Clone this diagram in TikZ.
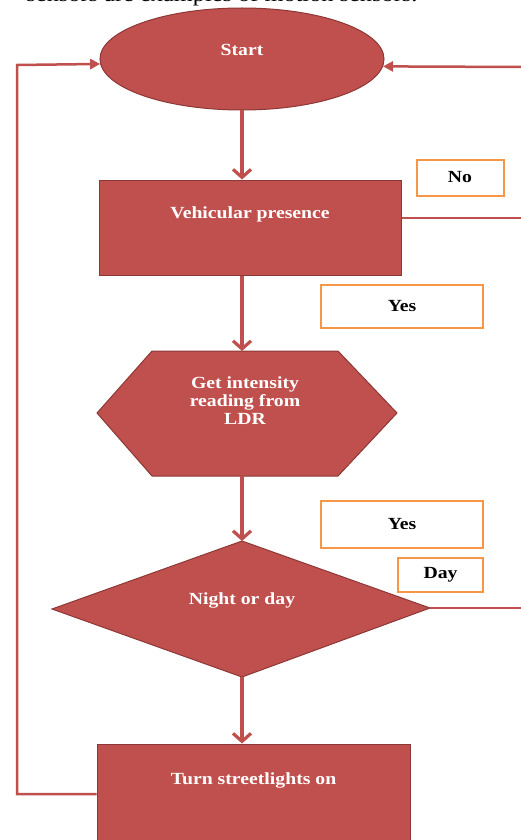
\documentclass[tikz,border=0pt]{standalone}
\usepackage{fontspec}
\setmainfont{Liberation Serif}[FakeStretch=1.16]
\usetikzlibrary{shapes.geometric,arrows.meta}
\definecolor{redfill}{HTML}{C0504D}
\definecolor{redline}{HTML}{8C3836}
\definecolor{orangeline}{HTML}{F79646}
\definecolor{connred}{HTML}{C0504D}
\begin{document}
\begin{tikzpicture}[x=1pt,y=-1pt,
  shapebox/.style={draw=redline, line width=1pt, fill=redfill},
  lbl/.style={text=white, font=\fontsize{17}{18}\selectfont\bfseries, align=center},
  tag/.style={draw=orangeline, line width=2pt, fill=white, text=black, inner sep=0pt, font=\fontsize{17}{18}\selectfont\bfseries},
  conn/.style={draw=connred, line width=3.2pt},
  vtip/.style={-{Straight Barb[length=8pt,width=18pt]}},
  htip/.style={-{Triangle[length=10pt,width=10pt]}}]
\useasboundingbox (0,0) rectangle (521,840);
\fill[white] (0,0) rectangle (521,840);
% cut-off text line at top
\node[anchor=base, inner sep=0pt, font=\fontsize{21}{24}\selectfont] (toptext) at (222,2) {sensors are examples of motion sensors.};
% shapes
\node[shapebox, ellipse, minimum width=284pt, minimum height=102pt, inner sep=0pt] (start) at (242,59) {};
\node[lbl] (starttxt) at (242,50) {Start};
\node[shapebox, rectangle, minimum width=302pt, minimum height=95pt, inner sep=0pt] (veh) at (250,227.5) {};
\node[lbl] (vehtxt) at (250,214) {Vehicular presence};
\draw[shapebox] (152,351) -- (338,351) -- (397,413) -- (338,476) -- (152,476) -- (97,413) -- cycle;
\coordinate (hexN) at (242,351);
\coordinate (hexS) at (242,476);
\node[lbl] (ldr) at (245,401) {Get intensity\\reading from\\LDR};
\draw[shapebox] (242,541) -- (430,608) -- (242,677) -- (52,609) -- cycle;
\coordinate (dN) at (242,541);
\coordinate (dS) at (242,677);
\coordinate (dE) at (430,608);
\node[lbl] (nighttxt) at (242,600) {Night or day};
\node[shapebox, rectangle, minimum width=313pt, minimum height=116pt, inner sep=0pt] (turn) at (253.5,802) {};
\node[lbl] (turntxt) at (253.5,780) {Turn streetlights on};
% tags
\node[tag, minimum width=87pt, minimum height=36pt] (no) at (460,177.5) {No};
\node[tag, minimum width=162pt, minimum height=43pt] (yes1) at (402,306.5) {Yes};
\node[tag, minimum width=162pt, minimum height=47pt] (yes2) at (402,524.5) {Yes};
\node[tag, minimum width=85pt, minimum height=34pt] (day) at (440.5,575) {Day};
% connectors
\draw[conn, vtip] (start.south) -- (start.south |- veh.north);
\draw[conn, vtip] (start.south |- veh.south) -- (hexN);
\draw[conn, vtip] (hexS) -- (dN);
\draw[conn, vtip] (dS) -- (dS |- turn.north);
\coordinate (noEnd) at (521,218);
\draw[conn, line width=2.5pt] (veh.east |- noEnd) -- (noEnd);
\coordinate (dayEnd) at (521,608);
\draw[conn, line width=2.5pt] (dE) -- (dayEnd);
\coordinate (rEnd) at (521,67);
\draw[conn, line width=2.5pt, htip] (rEnd) -- (start.-3.3);
\coordinate (loopB) at (17,794);
\coordinate (loopT) at (17,65);
\draw[conn, line width=2.5pt, htip] (loopB -| turn.west) -- (loopB) -- (loopT) -- (start.182.4);
\end{tikzpicture}
\end{document}
